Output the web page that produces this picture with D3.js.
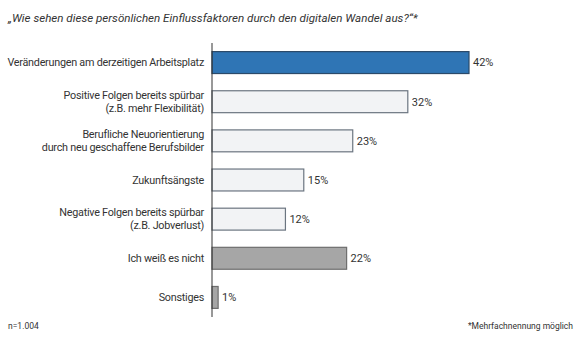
<!DOCTYPE html>
<html>
<head>
<meta charset="utf-8">
<script src="https://cdn.jsdelivr.net/npm/d3@7"></script>
<style>
  html, body { margin: 0; padding: 0; background: #ffffff; }
  svg { display: block; font-family: Roboto, "Open Sans", Arial, sans-serif; }
</style>
</head>
<body>
<svg id="chart" width="580" height="343"></svg>
<script>
// Survey answers (multiple answers allowed)
const categories = [
  ["Veränderungen am derzeitigen Arbeitsplatz"],
  ["Positive Folgen bereits spürbar", "(z.B. mehr Flexibilität)"],
  ["Berufliche Neuorientierung", "durch neu geschaffene Berufsbilder"],
  ["Zukunftsängste"],
  ["Negative Folgen bereits spürbar", "(z.B. Jobverlust)"],
  ["Ich weiß es nicht"],
  ["Sonstiges"]
];
const values = [42, 32, 23, 15, 12, 22, 1];
const groups = ["highlight", "light", "light", "light", "light", "grey", "grey"];

const title = "„Wie sehen diese persönlichen Einflussfaktoren durch den digitalen Wandel aus?“*";
const sampleNote = "n=1.004";
const footNote = "*Mehrfachnennung möglich";

const fills = { highlight: "#2f75b5", light: "#f2f3f5", grey: "#a6a6a6" };
const strokes = { highlight: "#2b4a6a", light: "#6b7580", grey: "#6e6e6e" };

const svg = d3.select("#chart");
const margin = { left: 212, top: 43, bottom: 26 };
const height = 343;

const x = d3.scaleLinear().domain([0, 42]).range([margin.left, 469]);
const y = d3.scaleBand()
  .domain(d3.range(values.length))
  .range([margin.top, height - margin.bottom])
  .paddingInner(0.44)
  .paddingOuter(0.22);

// title
svg.append("text")
  .attr("x", 8).attr("y", 22)
  .attr("font-size", 11.6).attr("font-style", "italic")
  .attr("fill", "#333")
  .text(title);

// bars
svg.append("g").selectAll("rect")
  .data(values)
  .join("rect")
  .attr("x", x(0))
  .attr("y", (d, i) => y(i))
  .attr("width", d => x(d) - x(0))
  .attr("height", y.bandwidth())
  .attr("fill", (d, i) => fills[groups[i]])
  .attr("stroke", (d, i) => strokes[groups[i]])
  .attr("stroke-width", 1.2);

// value labels
svg.append("g").selectAll("text")
  .data(values)
  .join("text")
  .attr("x", d => x(d) + 4)
  .attr("y", (d, i) => y(i) + y.bandwidth() / 2)
  .attr("dy", "0.35em")
  .attr("font-size", 11)
  .attr("fill", "#333")
  .text(d => d + "%");

// category labels (right aligned, one or two lines)
const labelG = svg.append("g");
categories.forEach((lines, i) => {
  const cy = y(i) + y.bandwidth() / 2;
  const lh = 13;
  const t = labelG.append("text")
    .attr("text-anchor", "end")
    .attr("font-size", 10.8)
    .attr("letter-spacing", -0.25)
    .attr("fill", "#333");
  lines.forEach((ln, j) => {
    t.append("tspan")
      .attr("x", 204)
      .attr("y", cy + (j - (lines.length - 1) / 2) * lh)
      .attr("dy", "0.35em")
      .text(ln);
  });
});

// vertical axis line
const axis = d3.axisLeft(y).tickSize(0).tickFormat("");
svg.append("g")
  .attr("transform", `translate(${x(0)},0)`)
  .call(axis)
  .call(g => g.select(".domain").attr("stroke", "#333").attr("d", `M0,${margin.top}V${height - margin.bottom}`));

// notes
svg.append("text")
  .attr("x", 8).attr("y", 329)
  .attr("font-size", 8.5).attr("fill", "#333")
  .text(sampleNote);
svg.append("text")
  .attr("x", 573).attr("y", 329)
  .attr("text-anchor", "end")
  .attr("font-size", 8.5).attr("fill", "#333")
  .text(footNote);
</script>
</body>
</html>
